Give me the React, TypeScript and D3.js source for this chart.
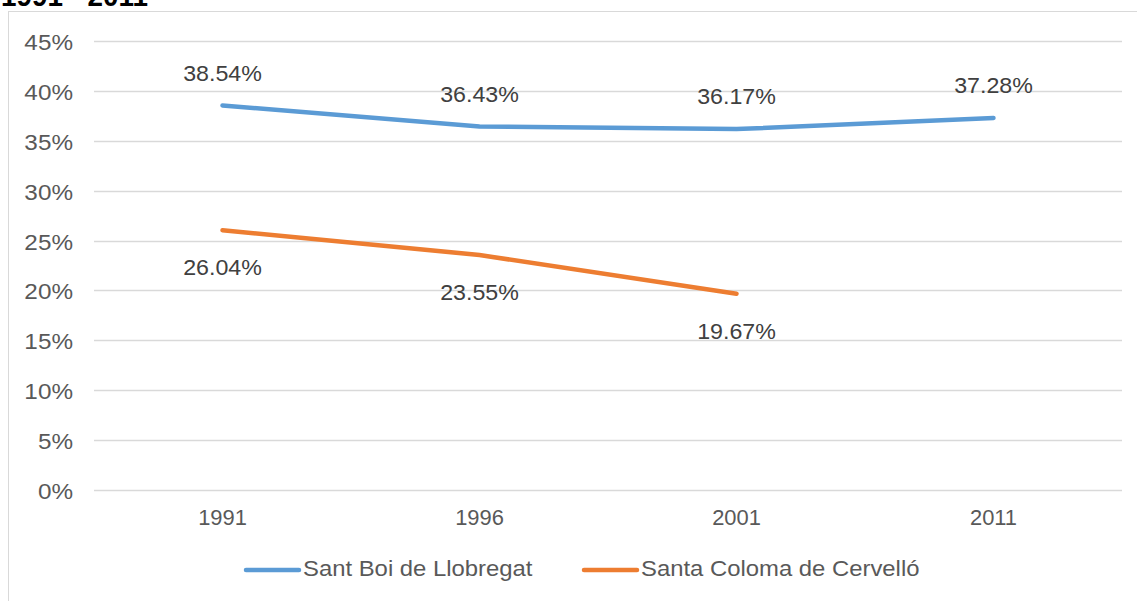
import React, { useEffect, useRef } from "react";
import * as d3 from "d3";

const years = ["1991", "1996", "2001", "2011"];
const santBoi = [38.54, 36.43, 36.17, 37.28];
const santaColoma = [26.04, 23.55, 19.67, null];
const yTicks = [0, 5, 10, 15, 20, 25, 30, 35, 40, 45];
const seriesNames = ["Sant Boi de Llobregat", "Santa Coloma de Cervelló"];
const seriesColors = ["#5B9BD5", "#ED7D31"];

export default function App() {
  const svgRef = useRef<SVGSVGElement | null>(null);

  useEffect(() => {
    const width = 1137;
    const height = 601;
    const margin = { top: 41, right: 15, bottom: 111, left: 94 };
    const font = "Arial, 'Liberation Sans', sans-serif";

    const svg = d3.select(svgRef.current);
    svg.selectAll("*").remove();
    svg.attr("width", width).attr("height", height);

    // text helper, sx/sy stretch the glyphs a little to match the picture
    const label = (parent: any, x: number, y: number, txt: string, anchor: string,
                   size: number, fill: string, sx = 1, sy = 1) =>
      parent.append("text")
        .attr("transform", `translate(${x},${y}) scale(${sx},${sy})`)
        .attr("dy", "0.35em")
        .attr("text-anchor", anchor)
        .style("font-family", font)
        .style("font-size", size + "px")
        .style("fill", fill)
        .text(txt);

    // frame
    svg.append("rect")
      .attr("x", 8.5)
      .attr("y", 11.5)
      .attr("width", width + 20)
      .attr("height", height + 20)
      .style("fill", "white")
      .style("stroke", "#d9d9d9")
      .style("stroke-width", 1);

    svg.append("text")
      .attr("transform", "translate(1,6) scale(1.03,1.1)")
      .style("font-family", font)
      .style("font-size", "27px")
      .style("font-weight", "bold")
      .style("fill", "#000")
      .text("1991 - 2011");

    const x = d3.scaleBand()
      .domain(years)
      .range([margin.left, width - margin.right]);

    const y = d3.scaleLinear()
      .domain([0, 45])
      .range([height - margin.bottom, margin.top]);

    const g = svg.append("g");

    g.selectAll(".grid")
      .data(yTicks)
      .enter()
      .append("line")
      .attr("x1", margin.left)
      .attr("x2", width - margin.right)
      .attr("y1", (d) => Math.round(y(d)) + 0.5)
      .attr("y2", (d) => Math.round(y(d)) + 0.5)
      .style("stroke", "#d9d9d9")
      .style("stroke-width", 1.5);

    yTicks.forEach((t) => label(g, 73, y(t) + 1.5, t + "%", "end", 21.5, "#595959", 1.13, 1));

    years.forEach((yr) =>
      label(g, x(yr)! + x.bandwidth() / 2, height - margin.bottom + 27, yr, "middle", 21.5, "#595959", 1.02, 1.03)
    );

    const series = [santBoi, santaColoma];
    const line = d3.line<number | null>()
      .defined((d) => d !== null)
      .x((d, i) => x(years[i])! + x.bandwidth() / 2)
      .y((d) => y(d as number));

    series.forEach((s, si) => {
      g.append("path")
        .datum(s)
        .attr("d", line)
        .style("fill", "none")
        .style("stroke", seriesColors[si])
        .style("stroke-width", 4.5)
        .style("stroke-linecap", "round");

      s.forEach((v, i) => {
        if (v === null) return;
        const cx = x(years[i])! + x.bandwidth() / 2;
        const cy = y(v) + (si === 0 ? -32.5 : 37);
        label(g, cx, cy, v.toFixed(2) + "%", "middle", 21.5, "#404040", 1.08, 1.04);
      });
    });

    // legend
    const legendX = [246, 584];
    seriesNames.forEach((name, i) => {
      const lg = svg.append("g");
      lg.append("line")
        .attr("x1", legendX[i])
        .attr("x2", legendX[i] + 53)
        .attr("y1", 570)
        .attr("y2", 570)
        .style("stroke", seriesColors[i])
        .style("stroke-width", 4.5)
        .style("stroke-linecap", "round");
      label(lg, legendX[i] + 57, 568.5, name, "start", 21.5, "#595959", 1.11, 1);
    });
  }, []);

  return (
    <div style={{ position: "absolute", left: 0, top: 0, width: 1137, height: 601, overflow: "hidden" }}>
      <svg ref={svgRef} style={{ display: "block", overflow: "hidden" }}></svg>
    </div>
  );
}
